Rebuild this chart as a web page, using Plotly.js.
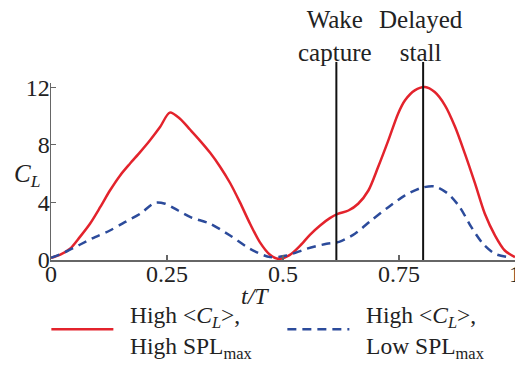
<!DOCTYPE html>
<html>
<head>
<meta charset="utf-8">
<script src="https://cdn.plot.ly/plotly-3.0.1.min.js"></script>
<style>html,body{margin:0;padding:0;background:#fff;}#chart{width:515px;height:367px;}</style>
</head>
<body>
<div id="chart"></div>
<script>
// Red: High <CL>, High SPLmax
var tRed = [0, 0.019, 0.041, 0.062, 0.084, 0.106, 0.127, 0.149, 0.170, 0.192, 0.213, 0.235, 0.256, 0.278, 0.300, 0.321, 0.343, 0.364, 0.386, 0.407, 0.429, 0.450, 0.472, 0.490, 0.515, 0.537, 0.558, 0.580, 0.601, 0.618, 0.641, 0.662, 0.684, 0.705, 0.727, 0.748, 0.763, 0.784, 0.806, 0.827, 0.849, 0.871, 0.892, 0.914, 0.935, 0.957, 0.978, 1.0];
var clRed = [0.15, 0.36, 0.78, 1.59, 2.52, 3.67, 4.83, 5.88, 6.69, 7.5, 8.31, 9.24, 10.24, 9.82, 9.05, 8.3, 7.45, 6.5, 5.35, 4.02, 2.52, 1.24, 0.36, 0.08, 0.36, 1.0, 1.75, 2.4, 2.91, 3.2, 3.44, 3.91, 4.83, 6.46, 8.31, 10.17, 11.1, 11.79, 12.02, 11.67, 10.75, 9.24, 7.39, 5.3, 3.21, 1.7, 0.66, 0.2];
// Blue: High <CL>, Low SPLmax
var tBlue = [0, 0.030, 0.062, 0.095, 0.127, 0.159, 0.192, 0.224, 0.246, 0.274, 0.303, 0.343, 0.386, 0.429, 0.472, 0.508, 0.551, 0.594, 0.621, 0.655, 0.690, 0.727, 0.763, 0.799, 0.827, 0.856, 0.881, 0.906, 0.931, 0.957, 0.993];
var clBlue = [0.15, 0.54, 1.06, 1.59, 2.05, 2.63, 3.21, 3.98, 3.91, 3.44, 2.95, 2.52, 1.70, 0.78, 0.2, 0.31, 0.78, 1.13, 1.26, 1.82, 2.75, 3.67, 4.49, 5.02, 5.11, 4.6, 3.67, 2.28, 1.13, 0.43, 0.15];
var xTickVals = [0, 0.25, 0.5, 0.75, 1];
var xTickText = ['0', '0.25', '0.5', '0.75', '1'];
var yTickVals = [0, 4, 8, 12];
var eventNames = ['Wake<br>capture', 'Delayed<br>stall'];
var eventTimes = [0.615, 0.802];
var eventLabelX = [0.612, 0.797];
var seriesNames = ['&#160;&#160;High &lt;<i>C</i><sub><i>L</i></sub>&gt;,<br>&#160;&#160;High SPL<sub>max</sub>',
                   '&#160;&#160;High &lt;<i>C</i><sub><i>L</i></sub>&gt;,<br>&#160;&#160;Low SPL<sub>max</sub>'];

var FONT = '"Liberation Serif", "Times New Roman", Times, serif';
var traces = [
  {x: tRed, y: clRed, mode: 'lines', name: seriesNames[0],
   line: {color: '#e3232c', width: 2.5, shape: 'spline', smoothing: 0.8}},
  {x: tBlue, y: clBlue, mode: 'lines', name: seriesNames[1],
   line: {color: '#2c4b9b', width: 2.5, dash: '9px,6px', shape: 'spline', smoothing: 0.8}}
];

var shapes = eventTimes.map(function (t) {
  return {type: 'line', xref: 'x', yref: 'paper', x0: t, x1: t, y0: 0, y1: 1.119,
          line: {color: '#111', width: 2}};
});
var annotations = eventNames.map(function (n, i) {
  return {text: n, xref: 'x', yref: 'paper', x: eventLabelX[i], y: 1.085,
          xanchor: 'center', yanchor: 'bottom', showarrow: false,
          font: {family: FONT, size: 25, color: '#222'}};
});
annotations.push({text: '<i>C</i><sub><i>L</i></sub>', xref: 'paper', yref: 'paper',
  x: -0.052, y: 0.48, xanchor: 'center', yanchor: 'middle', showarrow: false,
  font: {family: FONT, size: 25, color: '#222'}});
annotations.push({text: '<i>t/T</i>', xref: 'paper', yref: 'paper',
  x: 0.44, y: -0.203, xanchor: 'center', yanchor: 'middle', showarrow: false,
  font: {family: FONT, size: 24, color: '#222'}});

var layout = {
  width: 515, height: 367,
  margin: {l: 51, r: 0, t: 83, b: 107, autoexpand: false},
  paper_bgcolor: '#fff', plot_bgcolor: '#fff',
  font: {family: FONT, size: 24, color: '#222'},
  showlegend: true,
  legend: {orientation: 'h', x: -0.01, y: -0.182, xanchor: 'left', yanchor: 'top',
           font: {family: FONT, size: 23.5, color: '#222'},
           itemwidth: 62, entrywidth: 159, entrywidthmode: 'pixels',
           bgcolor: 'rgba(0,0,0,0)', tracegroupgap: 0},
  xaxis: {range: [0, 1], tickvals: xTickVals, ticktext: xTickText,
          ticks: 'inside', ticklen: 5, tickcolor: '#666', tickwidth: 1.2,
          ticklabelstandoff: -8, ticklabeloverflow: 'allow',
          showline: true, linecolor: '#666', linewidth: 1.5,
          showgrid: false, zeroline: false, fixedrange: true,
          tickfont: {family: FONT, size: 24, color: '#222'}},
  yaxis: {range: [0, 12.3], tickvals: yTickVals,
          ticks: 'inside', ticklen: 5, tickcolor: '#666', tickwidth: 1.2,
          ticklabelstandoff: -5, ticklabeloverflow: 'allow',
          showline: true, linecolor: '#666', linewidth: 1.5,
          showgrid: false, zeroline: false, fixedrange: true,
          tickfont: {family: FONT, size: 24, color: '#222'}},
  shapes: shapes,
  annotations: annotations
};

Plotly.newPlot('chart', traces, layout, {displayModeBar: false, staticPlot: true});
</script>
</body>
</html>
